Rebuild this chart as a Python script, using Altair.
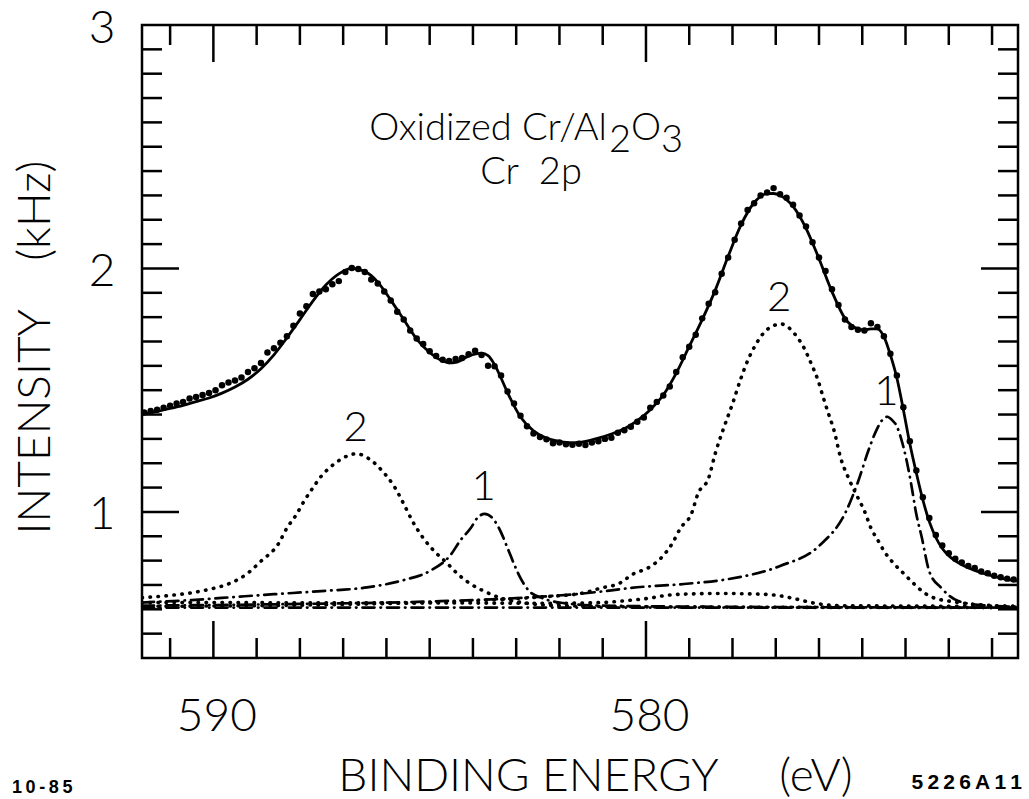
import altair as alt
import pandas as pd

# ---- measured Cr 2p spectrum (binding energy in eV, intensity in kHz) ----
data_ev = [591.60, 591.45, 591.30, 591.15, 591.00, 590.85, 590.70, 590.55, 590.40, 590.25,
           590.10, 589.95, 589.80, 589.65, 589.50, 589.35, 589.20, 589.05, 588.90, 588.75,
           588.60, 588.45, 588.30, 588.15, 588.00, 587.85, 587.70, 587.55, 587.40, 587.25,
           587.10, 586.95, 586.80, 586.65, 586.50, 586.35, 586.20, 586.05, 585.90, 585.75,
           585.60, 585.45, 585.30, 585.15, 585.00, 584.85, 584.70, 584.55, 584.40, 584.25,
           584.10, 583.95, 583.80, 583.65, 583.50, 583.35, 583.20, 583.05, 582.90, 582.75,
           582.60, 582.45, 582.30, 582.15, 582.00, 581.85, 581.70, 581.55, 581.40, 581.25,
           581.10, 580.95, 580.80, 580.65, 580.50, 580.35, 580.20, 580.05, 579.90, 579.75,
           579.60, 579.45, 579.30, 579.15, 579.00, 578.85, 578.70, 578.55, 578.40, 578.25,
           578.10, 577.95, 577.80, 577.65, 577.50, 577.35, 577.20, 577.05, 576.90, 576.75,
           576.60, 576.45, 576.30, 576.15, 576.00, 575.85, 575.70, 575.55, 575.40, 575.25,
           575.10, 574.95, 574.80, 574.65, 574.50, 574.35, 574.20, 574.05, 573.90, 573.75,
           573.60, 573.45, 573.30, 573.15, 573.00, 572.85, 572.70, 572.55, 572.40, 572.25,
           572.10, 571.95, 571.80, 571.65, 571.50]
data_khz = [1.408, 1.415, 1.420, 1.428, 1.436, 1.445, 1.452, 1.466, 1.472, 1.480,
            1.488, 1.500, 1.520, 1.532, 1.540, 1.552, 1.575, 1.590, 1.612, 1.655,
            1.672, 1.695, 1.722, 1.765, 1.815, 1.845, 1.895, 1.905, 1.915, 1.935,
            1.948, 1.985, 2.002, 1.998, 1.985, 1.955, 1.938, 1.905, 1.868, 1.822,
            1.790, 1.745, 1.712, 1.690, 1.660, 1.640, 1.625, 1.620, 1.628, 1.632,
            1.648, 1.662, 1.645, 1.600, 1.598, 1.560, 1.495, 1.445, 1.395, 1.352,
            1.322, 1.308, 1.298, 1.282, 1.285, 1.278, 1.276, 1.280, 1.275, 1.285,
            1.290, 1.300, 1.305, 1.325, 1.335, 1.350, 1.370, 1.388, 1.428, 1.452,
            1.478, 1.515, 1.575, 1.635, 1.678, 1.728, 1.795, 1.855, 1.902, 1.978,
            2.045, 2.118, 2.185, 2.240, 2.268, 2.300, 2.312, 2.330, 2.305, 2.290,
            2.262, 2.218, 2.172, 2.108, 2.045, 1.990, 1.915, 1.850, 1.790, 1.760,
            1.748, 1.745, 1.775, 1.760, 1.722, 1.650, 1.560, 1.430, 1.290, 1.170,
            1.060, 0.975, 0.905, 0.862, 0.830, 0.808, 0.792, 0.778, 0.770, 0.755,
            0.748, 0.738, 0.732, 0.726, 0.722]

# ---- total fit ----
fit_ev = [591.65, 591.30, 591.00, 590.70, 590.40, 590.10, 589.80, 589.50, 589.20, 588.90,
          588.60, 588.30, 588.00, 587.70, 587.40, 587.10, 586.80, 586.50, 586.20, 585.90,
          585.60, 585.30, 585.00, 584.70, 584.55, 584.40, 584.10, 583.80, 583.65, 583.50,
          583.35, 583.20, 582.90, 582.60, 582.30, 582.00, 581.70, 581.40, 581.10, 580.80,
          580.50, 580.20, 579.90, 579.60, 579.30, 579.00, 578.70, 578.40, 578.10, 577.80,
          577.50, 577.20, 577.05, 576.90, 576.60, 576.30, 576.00, 575.70, 575.40, 575.10,
          574.95, 574.80, 574.65, 574.50, 574.35, 574.20, 574.05, 573.90, 573.75, 573.60,
          573.45, 573.30, 573.15, 573.00, 572.70, 572.40, 572.10, 571.80, 571.40]
fit_khz = [1.403, 1.413, 1.425, 1.438, 1.453, 1.468, 1.488, 1.513, 1.545, 1.588,
           1.645, 1.715, 1.790, 1.866, 1.932, 1.978, 2.000, 1.988, 1.944, 1.870,
           1.790, 1.710, 1.655, 1.620, 1.612, 1.614, 1.640, 1.652, 1.642, 1.605,
           1.550, 1.490, 1.390, 1.333, 1.303, 1.290, 1.284, 1.290, 1.303, 1.320,
           1.342, 1.375, 1.420, 1.480, 1.570, 1.680, 1.790, 1.910, 2.050, 2.180,
           2.270, 2.307, 2.308, 2.300, 2.255, 2.165, 2.040, 1.905, 1.795, 1.752,
           1.748, 1.752, 1.752, 1.720, 1.645, 1.550, 1.420, 1.280, 1.160, 1.050,
           0.960, 0.895, 0.850, 0.820, 0.783, 0.760, 0.742, 0.728, 0.716]

# ---- fitted components ----
# component 2, 2p1/2 (broad, dotted)
c2_high_ev = [591.65, 591.00, 590.50, 590.00, 589.60, 589.20, 588.90, 588.50, 588.30, 588.10,
              587.90, 587.70, 587.50, 587.20, 586.90, 586.70, 586.40, 586.10, 585.80, 585.60,
              585.40, 585.15, 584.90, 584.60, 584.35, 584.05, 583.75, 583.35, 582.80, 582.00,
              580.00, 576.00, 571.40]
c2_high_khz = [0.648, 0.657, 0.668, 0.686, 0.708, 0.749, 0.798, 0.868, 0.934, 0.984,
               1.045, 1.099, 1.148, 1.198, 1.230, 1.239, 1.218, 1.169, 1.099, 1.033,
               0.963, 0.893, 0.840, 0.790, 0.745, 0.704, 0.675, 0.646, 0.626, 0.615,
               0.610, 0.608, 0.607]
# component 1, 2p1/2 (asymmetric, dash-dot)
c1_high_ev = [591.65, 590.50, 589.40, 588.60, 587.50, 586.45, 585.60, 585.00, 584.50, 584.30,
              584.05, 583.90, 583.73, 583.55, 583.40, 583.20, 583.05, 582.90, 582.70, 582.40,
              582.00, 581.00, 578.00, 571.40]
c1_high_khz = [0.628, 0.638, 0.652, 0.662, 0.675, 0.690, 0.720, 0.757, 0.827, 0.881,
               0.934, 0.975, 0.992, 0.975, 0.934, 0.852, 0.786, 0.728, 0.675, 0.646,
               0.628, 0.615, 0.610, 0.607]
# component 2, 2p3/2 (broad, dotted)
c2_low_ev = [591.65, 587.00, 584.00, 582.50, 581.45, 581.05, 580.60, 580.30, 579.95, 579.65,
             579.40, 579.20, 578.95, 578.80, 578.55, 578.40, 578.20, 578.00, 577.80, 577.65,
             577.45, 577.27, 577.05, 576.88, 576.70, 576.53, 576.35, 576.18, 576.02, 575.90,
             575.78, 575.65, 575.50, 575.32, 575.10, 574.95, 574.80, 574.63, 574.50, 574.26,
             574.03, 573.80, 573.56, 573.33, 573.00, 572.50, 571.40]
c2_low_khz = [0.612, 0.620, 0.635, 0.650, 0.667, 0.687, 0.708, 0.745, 0.770, 0.811,
              0.868, 0.934, 0.992, 1.074, 1.140, 1.239, 1.346, 1.444, 1.551, 1.621,
              1.691, 1.737, 1.765, 1.772, 1.757, 1.724, 1.675, 1.609, 1.539, 1.469,
              1.403, 1.333, 1.222, 1.140, 1.058, 1.004, 0.934, 0.881, 0.840, 0.786,
              0.745, 0.704, 0.667, 0.646, 0.634, 0.622, 0.612]
# component 1, 2p3/2 (asymmetric, dash-dot)
c1_low_ev = [591.65, 588.00, 585.00, 583.00, 581.35, 580.80, 580.35, 579.12, 578.10, 576.90,
             576.00, 575.37, 575.09, 574.86, 574.68, 574.55, 574.42, 574.30, 574.21, 574.10,
             573.98, 573.87, 573.75, 573.63, 573.45, 573.17, 572.78, 572.30, 571.40]
c1_low_khz = [0.615, 0.622, 0.632, 0.646, 0.667, 0.678, 0.688, 0.704, 0.724, 0.778,
              0.860, 1.004, 1.128, 1.251, 1.333, 1.375, 1.391, 1.375, 1.355, 1.300,
              1.215, 1.115, 0.990, 0.900, 0.755, 0.687, 0.634, 0.618, 0.610]
# weak satellite (dotted)
sat_ev = [591.65, 588.00, 585.00, 582.00, 581.00, 580.50, 579.95, 579.50, 579.00, 578.30,
          577.50, 577.00, 576.60, 576.10, 575.50, 571.40]
sat_khz = [0.628, 0.627, 0.626, 0.625, 0.628, 0.635, 0.645, 0.658, 0.663, 0.665,
           0.663, 0.658, 0.645, 0.625, 0.615, 0.612]
# background (dash-dot)
bg_ev = [591.65, 571.40]
bg_khz = [0.607, 0.607]

# peak labels
label_text = ["2", "1", "2", "1"]
label_ev = [586.71, 583.75, 576.92, 574.44]
label_khz = [1.346, 1.103, 1.880, 1.494]

# axis tick positions
x_minor = [572, 573, 574, 575, 576, 577, 578, 579, 581, 582, 583, 584, 585, 586, 587, 588, 589, 591]
x_major = [580, 590]
y_minor = [0.5, 0.6, 0.7, 0.8, 0.9, 1.1, 1.2, 1.3, 1.4, 1.5, 1.6, 1.7, 1.8, 1.9,
           2.1, 2.2, 2.3, 2.4, 2.5, 2.6, 2.7, 2.8, 2.9]
y_major = [1, 2]

W, H = 876, 633
FONT = "Lato"
NB = "\u00a0"

x_scale = alt.Scale(domain=[571.4, 591.65], reverse=True, zero=False, nice=False)
y_scale = alt.Scale(domain=[0.4, 3.0], zero=False, nice=False)

x_axis = alt.Axis(values=[590, 580], ticks=False, tickSize=0, domain=False, grid=False,
                  labelFont=FONT, labelFontWeight=300, labelFontSize=46, labelColor="black",
                  labelPadding=36, format="d", labelOffset=3,
                  title="BINDING ENERGY" + NB * 5 + "(eV)",
                  titleFont=FONT, titleFontWeight=300, titleFontSize=46, titleColor="black",
                  titleX=453, titleY=132, titleBaseline="alphabetic")
y_axis = alt.Axis(values=[1, 2, 3], ticks=False, tickSize=0, domain=False, grid=False,
                  labelFont=FONT, labelFontWeight=300, labelFontSize=46, labelColor="black",
                  labelPadding=27, format="d", labelOffset=3, labelFlush=False,
                  title="INTENSITY" + NB * 4 + "(kHz)",
                  titleFont=FONT, titleFontWeight=300, titleFontSize=46, titleColor="black",
                  titleX=-107, titleY=322, titleBaseline="middle", titleAngle=270)

X = alt.X("ev:Q", scale=x_scale, axis=x_axis)
Y = alt.Y("khz:Q", scale=y_scale, axis=y_axis)


def frame(ev, khz):
    return pd.DataFrame({"ev": ev, "khz": khz})


DOTTED = dict(strokeDash=[0.5, 7.5], strokeCap="round", strokeWidth=3.6, color="black")
DASHDOT = dict(strokeDash=[12, 6, 0.5, 6], strokeCap="round", strokeWidth=2.7, color="black")


def curve(ev, khz, style):
    return alt.Chart(frame(ev, khz)).mark_line(interpolate="monotone", clip=True, **style).encode(x=X, y=Y)


layers = [
    curve(bg_ev, bg_khz, DASHDOT),
    curve(sat_ev, sat_khz, DOTTED),
    curve(c2_high_ev, c2_high_khz, DOTTED),
    curve(c2_low_ev, c2_low_khz, DOTTED),
    curve(c1_high_ev, c1_high_khz, DASHDOT),
    curve(c1_low_ev, c1_low_khz, DASHDOT),
    alt.Chart(frame(data_ev, data_khz)).mark_circle(size=42, color="black", opacity=1).encode(x=X, y=Y),
    curve(fit_ev, fit_khz, dict(strokeWidth=2.8, color="black")),
    alt.Chart(pd.DataFrame({"ev": label_ev, "khz": label_khz, "t": label_text}))
    .mark_text(font=FONT, fontWeight=300, fontSize=42, color="black", baseline="middle")
    .encode(x=X, y=Y, text="t:N"),
]

# inward ticks on all four sides
TICK = dict(color="black", strokeWidth=2.5)
for vals, ln in ((x_minor, 20), (x_major, 37)):
    d = pd.DataFrame({"ev": vals})
    layers.append(alt.Chart(d).mark_rule(**TICK).encode(x=X, y=alt.value(H), y2=alt.value(H - ln)))
    layers.append(alt.Chart(d).mark_rule(**TICK).encode(x=X, y=alt.value(0), y2=alt.value(ln)))
for vals, ln in ((y_minor, 20), (y_major, 37)):
    d = pd.DataFrame({"khz": vals})
    layers.append(alt.Chart(d).mark_rule(**TICK).encode(y=Y, x=alt.value(0), x2=alt.value(ln)))
    layers.append(alt.Chart(d).mark_rule(**TICK).encode(y=Y, x=alt.value(W), x2=alt.value(W - ln)))

# heading (with lowered subscripts) and sample notes
heading = pd.DataFrame({
    "t": ["Oxidized Cr/Al", "2", "O", "3", "Cr" + NB * 2 + "2p"],
    "px": [465, 467, 489, 519, 389],
    "py": [115, 127, 115, 127, 159],
    "align": ["right", "left", "left", "left", "center"],
})
for _, r in heading.iterrows():
    layers.append(
        alt.Chart(pd.DataFrame({"t": [r["t"]]}))
        .mark_text(font=FONT, fontWeight=300, fontSize=38, color="black",
                   align=r["align"], baseline="alphabetic")
        .encode(x=alt.value(int(r["px"])), y=alt.value(int(r["py"])), text="t:N")
    )
layers.append(
    alt.Chart(pd.DataFrame({"t": ["1\u20090\u2009-\u20098\u20095"]}))
    .mark_text(font="Liberation Sans", fontWeight="bold", fontSize=18, color="black",
               align="left", baseline="alphabetic")
    .encode(x=alt.value(-130), y=alt.value(768), text="t:N")
)
layers.append(
    alt.Chart(pd.DataFrame({"t": ["5\u20092\u20092\u20096\u2009A\u20091\u20091"]}))
    .mark_text(font="Liberation Sans", fontWeight="bold", fontSize=21, color="black",
               align="right", baseline="alphabetic")
    .encode(x=alt.value(880), y=alt.value(764), text="t:N")
)

chart = (
    alt.layer(*layers)
    .properties(width=W, height=H, padding={"left": 142, "top": 25, "right": 11, "bottom": 141},
                autosize=alt.AutoSizeParams(type="none"), background="white")
    .configure_view(stroke="black", strokeWidth=2.5)
)

chart.save("out.html", embed_options={"renderer": "svg", "actions": False})
